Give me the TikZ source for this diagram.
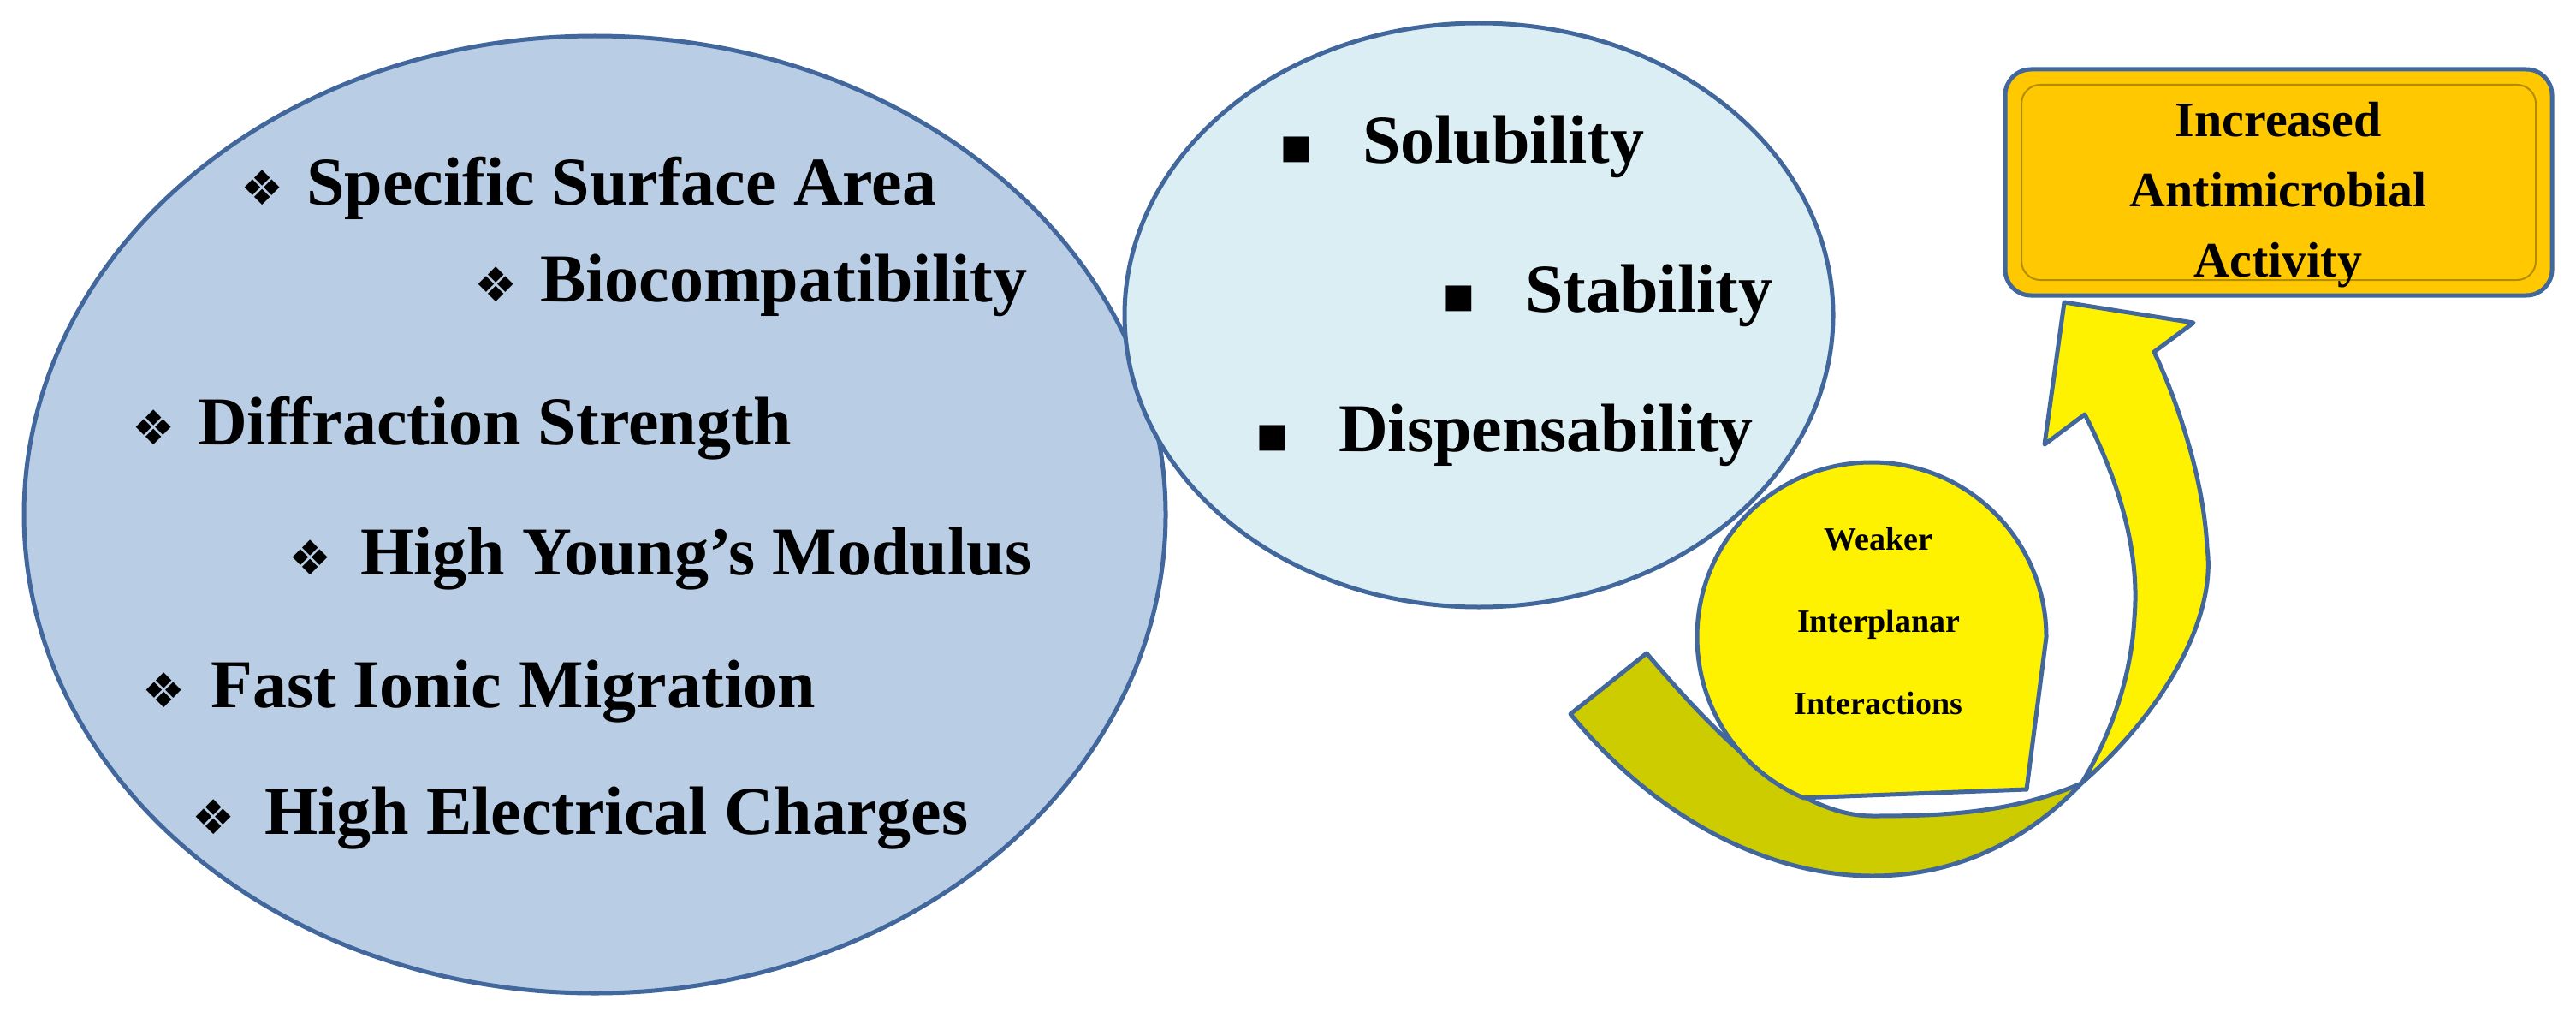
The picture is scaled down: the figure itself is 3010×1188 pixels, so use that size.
\documentclass[tikz,border=0pt]{standalone}
\usepackage{fontspec}
\setmainfont{Liberation Serif}
\newfontfamily\symf{DejaVu Sans}
\definecolor{edge}{HTML}{41679C}
\definecolor{bigfill}{HTML}{B9CDE5}
\definecolor{smallfill}{HTML}{DBEEF4}
\definecolor{olive}{HTML}{CCCC00}
\definecolor{boxfill}{HTML}{FFC800}
\tikzset{
  bl/.style={anchor=base west,inner sep=0pt,font=\fontsize{80}{90}\selectfont\bfseries},
  dm/.style={anchor=base west,inner sep=0pt,font=\fontsize{56}{60}\symf},
  sq/.style={anchor=base west,inner sep=0pt,font=\fontsize{60}{60}\symf},
  shp/.style={draw=edge,line width=5pt,line join=round},
}
\begin{document}
\begin{tikzpicture}[x=1pt,y=-1pt]
\useasboundingbox (0,0) rectangle (3010,1188);
% big ellipse
\draw[shp,fill=bigfill] (695,601) ellipse [x radius=667,y radius=559];
% small ellipse
\draw[shp,fill=smallfill] (1728,368) ellipse [x radius=414,y radius=341];
% arrow tail (olive)
\draw[shp,fill=olive] (1835,834) .. controls (1930,950) and (2060,1023) .. (2188,1023)
  .. controls (2300,1023) and (2380,970) .. (2432,915)
  .. controls (2350,950) and (2270,953) .. (2188,953)
  .. controls (2090,953) and (1990,840) .. (1924,763) -- cycle;
% teardrop
\draw[shp,fill=yellow] (2368,922) -- (2391,744) arc[start angle=0,end angle=-247,radius=204] -- cycle;
% arrow upper (yellow)
\draw[shp,fill=yellow] (2432,915) .. controls (2530,830) and (2590,720) .. (2579,640)
  .. controls (2575,560) and (2545,470) .. (2517,411) -- (2563,377) -- (2412,353) -- (2389,519) -- (2436,484)
  .. controls (2480,570) and (2500,650) .. (2494,721) .. controls (2490,800) and (2460,870) .. (2432,915) -- cycle;
% box
\draw[shp,fill=boxfill,rounded corners=30pt] (2343,81) rectangle (2982,345);
\draw[draw=black!30!boxfill,line width=2pt,rounded corners=22pt] (2362,99) rectangle (2963,327);
\node[font=\fontsize{58}{82}\selectfont\bfseries,align=center,inner sep=0pt] (box) at (2662,228) {Increased\\Antimicrobial\\Activity};
% teardrop text
\node[font=\fontsize{38}{96}\selectfont\bfseries,align=center,inner sep=0pt] (drop) at (2195,725) {Weaker\\Interplanar\\Interactions};
% left texts
\node[dm] (d1) at (281,239) {❖}; \node[bl] (t1) at (358,239) {Specific Surface Area};
\node[dm] (d2) at (554,352) {❖}; \node[bl] (t2) at (631,352) {Biocompatibility};
\node[dm] (d3) at (154,519) {❖}; \node[bl] (t3) at (231,519) {Diffraction Strength};
\node[dm] (d4) at (337,671) {❖}; \node[bl] (t4) at (421,671) {High Young’s Modulus};
\node[dm] (d5) at (166,826) {❖}; \node[bl] (t5) at (246,826) {Fast Ionic Migration};
\node[dm] (d6) at (224,974) {❖}; \node[bl] (t6) at (309,974) {High Electrical Charges};
% right ellipse texts
\node[sq] (s1) at (1494,190) {▪}; \node[bl] (u1) at (1592,190) {Solubility};
\node[sq] (s2) at (1684,364) {▪}; \node[bl] (u2) at (1782,364) {Stability};
\node[sq] (s3) at (1466,527) {▪}; \node[bl] (u3) at (1564,527) {Dispensability};
\end{tikzpicture}
\end{document}
